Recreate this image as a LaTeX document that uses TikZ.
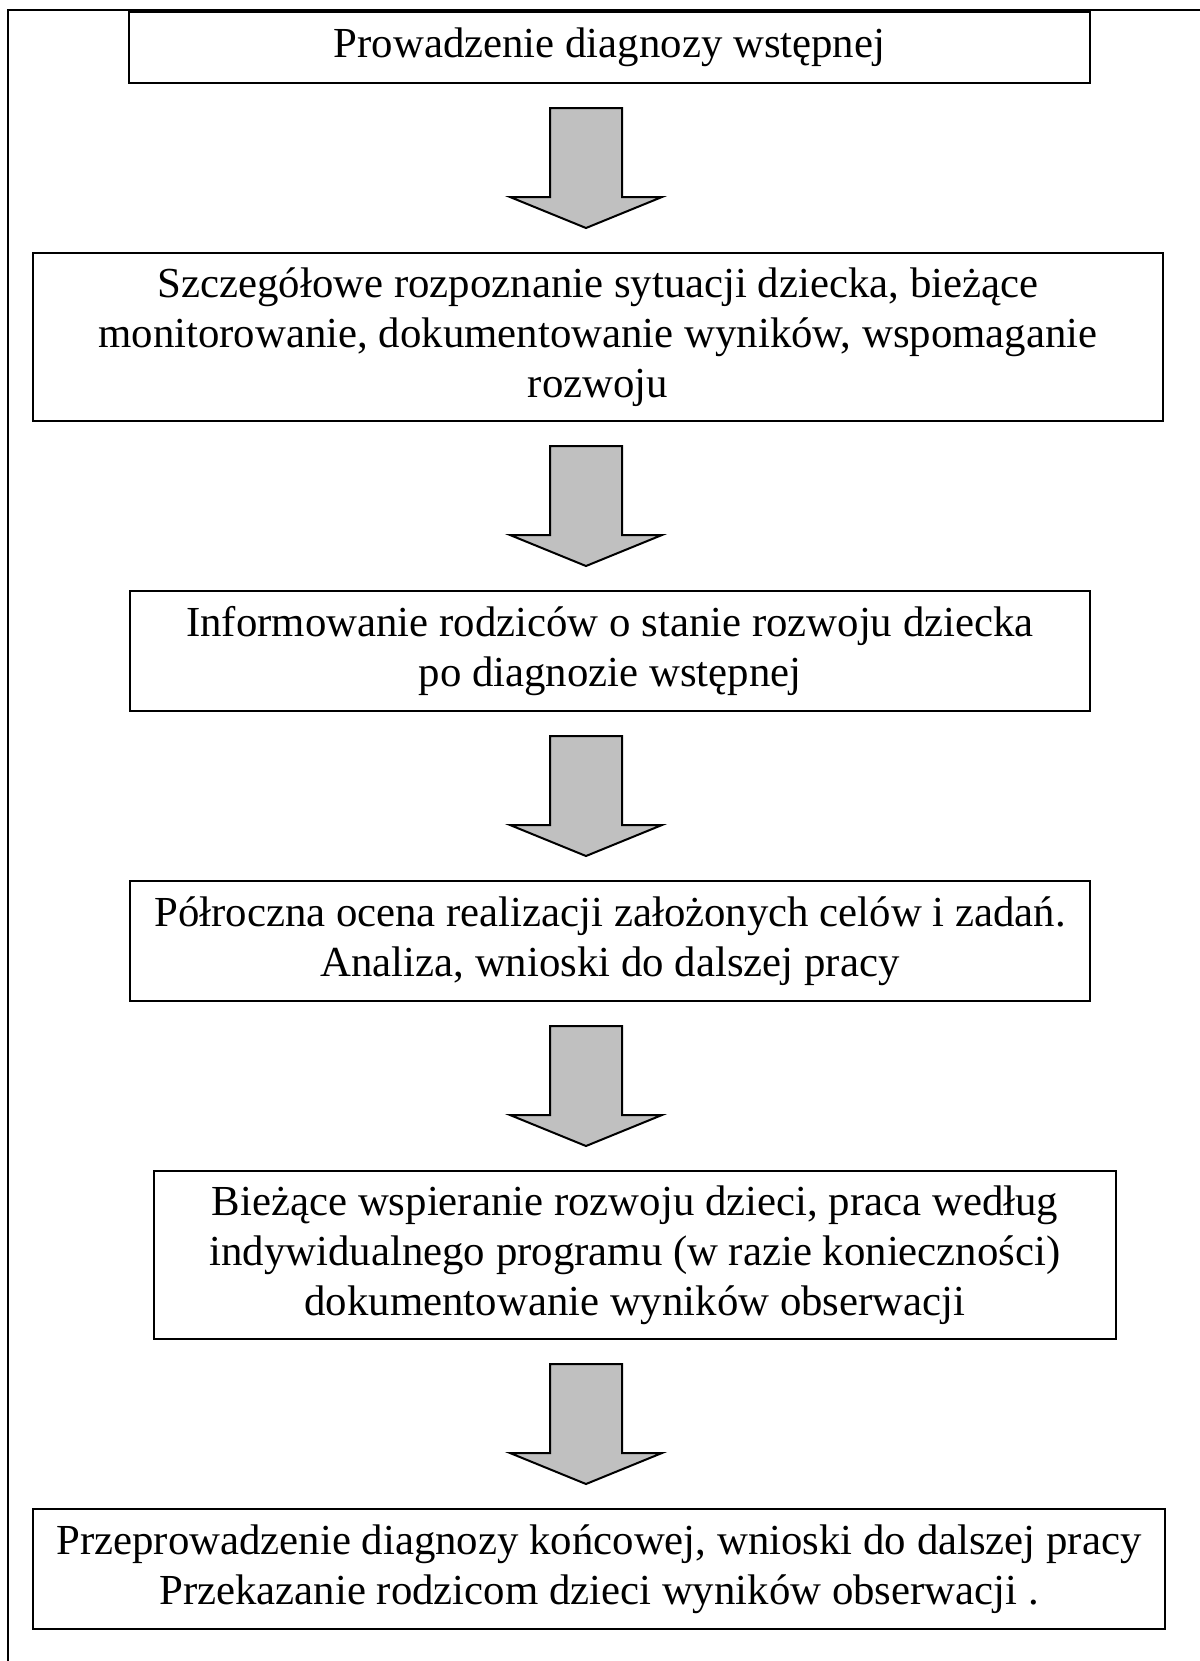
\documentclass[tikz,border=0pt]{standalone}
\usepackage{fontspec}
\setmainfont{Liberation Serif}
\usepackage{tikz}
\usetikzlibrary{positioning, calc}
\definecolor{arrowgray}{RGB}{192,192,192}

% block arrow from box #1 down to box #2 on the common axis
\newcommand{\flowarrow}[2]{%
  \draw[blockarrow]
    ($(axis |- #1.south)+(-36,24)$) -- ($(axis |- #1.south)+(36,24)$)
    -- ($(axis |- #2.north)+(36,-55)$) -- ($(axis |- #2.north)+(76,-55)$)
    -- ($(axis |- #2.north)+(0,-24)$)
    -- ($(axis |- #2.north)+(-76,-55)$) -- ($(axis |- #2.north)+(-36,-55)$)
    -- cycle;}

\begin{document}
\begin{tikzpicture}[x=0.5pt, y=-0.5pt, node distance=84pt,
  stepbox/.style={draw, line width=1pt, inner sep=0pt, align=center,
    minimum width=480.5pt, minimum height=60pt,
    font=\fontsize{21.4}{25}\selectfont},
  blockarrow/.style={draw, line width=1pt, fill=arrowgray, line join=miter}]

\useasboundingbox (0,0) rectangle (1200,1661);

% outer frame (only left and top edges fall on the page)
\draw[line width=0.9pt] (8,1661) -- (8,10) -- (1200,10);

% Define nodes
\node[stepbox, minimum height=35.5pt] (b1) at (609.5,47.5) {Prowadzenie diagnozy wstępnej};
\node[stepbox, below=of b1, xshift=-5.75pt, minimum width=565pt, minimum height=84pt] (b2)
  {Szczegółowe rozpoznanie sytuacji dziecka, bieżące\\
   monitorowanie, dokumentowanie wyników, wspomaganie\\
   rozwoju};
\node[stepbox, below=of b2, xshift=6pt, minimum width=480pt] (b3)
  {Informowanie rodziców o stanie rozwoju dziecka\\po diagnozie wstępnej};
\node[stepbox, below=of b3, minimum width=480pt] (b4)
  {Półroczna ocena realizacji założonych celów i zadań.\\Analiza, wnioski do dalszej pracy};
\node[stepbox, below=of b4, xshift=12.5pt, minimum width=481pt, minimum height=84pt] (b5)
  {Bieżące wspieranie rozwoju dzieci, praca według\\
   indywidualnego programu (w razie konieczności)\\
   dokumentowanie wyników obserwacji};
\node[stepbox, below=of b5, xshift=-18pt, minimum width=566pt] (b6)
  {Przeprowadzenie diagnozy końcowej, wnioski do dalszej pracy\\
   Przekazanie rodzicom dzieci wyników obserwacji .};

% Draw block arrows
\coordinate (axis) at (586,0);
\flowarrow{b1}{b2}
\flowarrow{b2}{b3}
\flowarrow{b3}{b4}
\flowarrow{b4}{b5}
\flowarrow{b5}{b6}

\end{tikzpicture}
\end{document}
